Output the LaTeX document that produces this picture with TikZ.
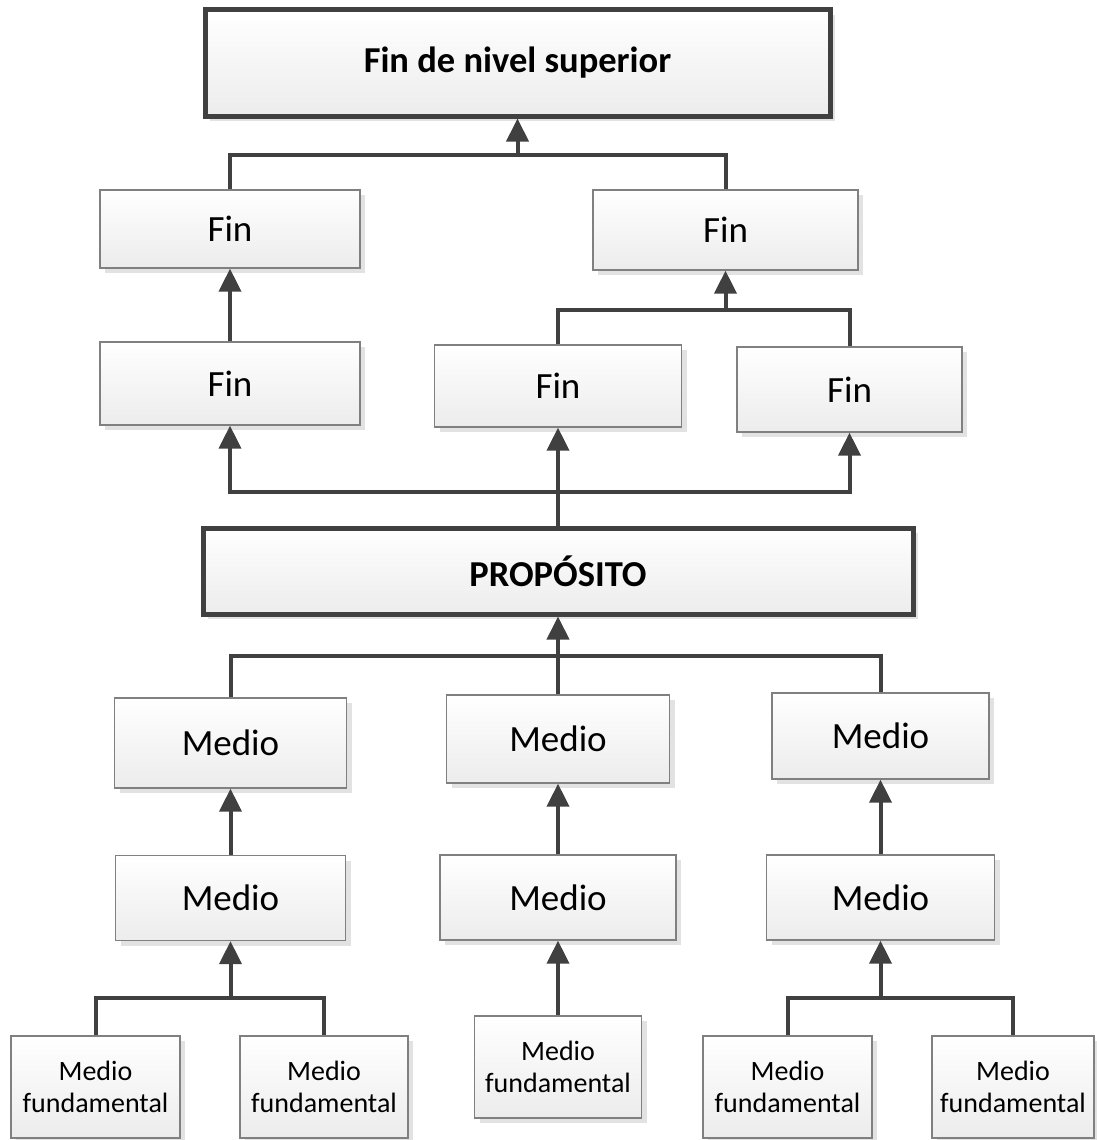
\documentclass[tikz,border=0pt]{standalone}
\usepackage{fontspec}
\setmainfont{Carlito}
\usetikzlibrary{arrows.meta,shadows}
\definecolor{linegray}{HTML}{404040}
\definecolor{edgegray}{HTML}{808080}
\definecolor{shadowgray}{HTML}{E2E2E2}
\definecolor{fillbottom}{HTML}{ECECEC}
\begin{document}
\begin{tikzpicture}[x=1pt,y=-1pt,
  box/.style={draw=edgegray, line width=1.3pt, top color=white, bottom color=fillbottom,
    drop shadow={shadow xshift=5pt, shadow yshift=-5pt, fill=shadowgray, opacity=1},
    inner sep=0pt, align=center, font=\fontsize{37}{42}\selectfont},
  mainbox/.style={box, draw=linegray, line width=5pt, font=\fontsize{36.5}{40}\selectfont\bfseries},
  smallbox/.style={box, font=\fontsize{28}{32}\selectfont},
  wire/.style={draw=linegray, line width=4pt},
  arrowwire/.style={wire, -{Triangle[length=23pt,width=22pt]}}]
\useasboundingbox (0,0) rectangle (1096,1140);

% upper part: ends
\node[mainbox, minimum width=625, minimum height=106] (top) at (517.5,63) {Fin de nivel superior};
\node[box, minimum width=260, minimum height=78] (finA) at (230,229) {Fin};
\node[box, minimum width=265, minimum height=80] (finB) at (725.5,230) {Fin};
\node[box, minimum width=260, minimum height=83] (finC) at (230,383.5) {Fin};
\node[box, minimum width=247, minimum height=82] (finD) at (558,386) {Fin};
\node[box, minimum width=225, minimum height=85] (finE) at (849.5,389.5) {Fin};

% purpose
\node[mainbox, minimum width=710, minimum height=86] (prop) at (558,571) {PROPÓSITO};

% lower part: means
\node[box, minimum width=232, minimum height=90] (medA) at (230.5,743) {Medio};
\node[box, minimum width=223, minimum height=88] (medB) at (558,739) {Medio};
\node[box, minimum width=217, minimum height=86] (medC) at (880.5,736) {Medio};
\node[box, minimum width=230, minimum height=85] (medD) at (230.5,898) {Medio};
\node[box, minimum width=236, minimum height=85] (medE) at (558,897.5) {Medio};
\node[box, minimum width=228, minimum height=85] (medF) at (880.5,897.5) {Medio};

\node[smallbox, minimum width=169, minimum height=102] (mf1) at (95.5,1087) {Medio\\fundamental};
\node[smallbox, minimum width=168, minimum height=102] (mf2) at (324,1087) {Medio\\fundamental};
\node[smallbox, minimum width=167, minimum height=102] (mf3) at (558,1067) {Medio\\fundamental};
\node[smallbox, minimum width=169, minimum height=102] (mf4) at (787.5,1087) {Medio\\fundamental};
\node[smallbox, minimum width=162, minimum height=102] (mf5) at (1013,1087) {Medio\\fundamental};

% junction points of the tree connectors
\coordinate (j1) at (517.5,155);
\coordinate (j2) at (725.5,310);
\coordinate (j3) at (558,492);
\coordinate (j4) at (558,656);
\coordinate (j5) at (230.5,998);
\coordinate (j6) at (880.5,998);

% connectors
\draw[wire] (finA.north) |- (j1) -| (finB.north);
\draw[arrowwire] (j1) -- (top.south);
\draw[arrowwire] (finC.north) -- (finA.south);
\draw[wire] (finD.north) |- (j2) -| (finE.north);
\draw[arrowwire] (j2) -- (finB.south);
\draw[wire] (prop.north) -- (j3);
\draw[arrowwire] (j3) -- (finD.south);
\draw[arrowwire] (j3) -| (finC.south);
\draw[arrowwire] (j3) -| (finE.south);

\draw[wire] (medA.north) |- (j4) -| (medC.north);
\draw[wire] (medB.north) -- (j4);
\draw[arrowwire] (j4) -- (prop.south);
\draw[arrowwire] (medD.north) -- (medA.south);
\draw[arrowwire] (medE.north) -- (medB.south);
\draw[arrowwire] (medF.north) -- (medC.south);

\draw[wire] (mf1.north) |- (j5) -| (mf2.north);
\draw[arrowwire] (j5) -- (medD.south);
\draw[arrowwire] (mf3.north) -- (medE.south);
\draw[wire] (mf4.north) |- (j6) -| (mf5.north);
\draw[arrowwire] (j6) -- (medF.south);
\end{tikzpicture}
\end{document}
